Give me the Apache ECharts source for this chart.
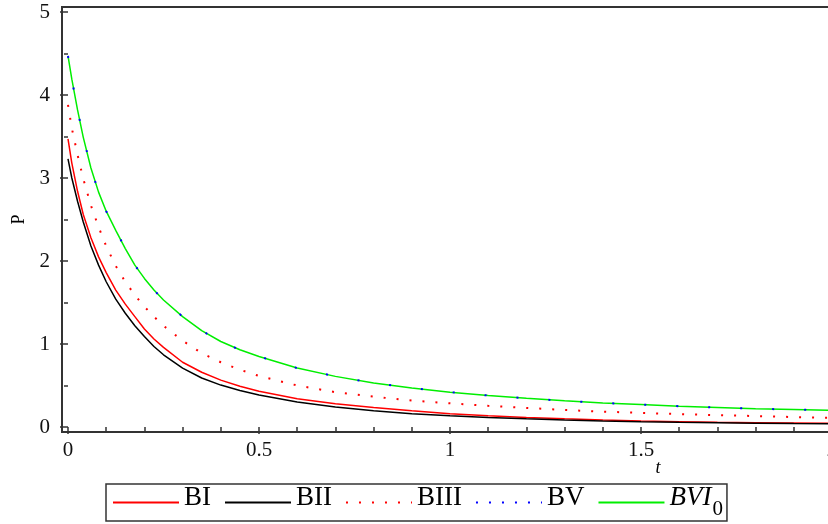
<!DOCTYPE html>
<html>
<head>
<meta charset="utf-8">
<script src="https://cdn.jsdelivr.net/npm/echarts@6/dist/echarts.min.js"></script>
<style>
  html, body { margin: 0; padding: 0; background: #fff; }
  #chart { width: 828px; height: 524px; }
</style>
</head>
<body>
<div id="chart"></div>
<script>
const tValues = [0, 0.01, 0.025, 0.04, 0.06, 0.08, 0.1, 0.125, 0.15, 0.175, 0.2, 0.225, 0.25,
  0.3, 0.35, 0.4, 0.45, 0.5, 0.6, 0.7, 0.8, 0.9, 1.0, 1.1, 1.2, 1.3, 1.4, 1.5, 1.6, 1.7, 1.8, 1.9, 2.0];

const biValues = [3.47, 3.18, 2.84, 2.56, 2.28, 2.05, 1.86, 1.65, 1.48, 1.33, 1.18, 1.06, 0.96,
  0.78, 0.66, 0.565, 0.49, 0.43, 0.34, 0.28, 0.235, 0.195, 0.16, 0.135, 0.115, 0.098, 0.084, 0.073, 0.064, 0.057, 0.052, 0.048, 0.045];

const biiValues = [3.23, 3.00, 2.72, 2.47, 2.18, 1.95, 1.75, 1.54, 1.37, 1.22, 1.09, 0.97, 0.87,
  0.71, 0.59, 0.505, 0.44, 0.385, 0.30, 0.24, 0.195, 0.16, 0.135, 0.115, 0.098, 0.084, 0.072, 0.063, 0.056, 0.05, 0.046, 0.042, 0.04];

const biiiValues = [3.88, 3.60, 3.28, 2.99, 2.67, 2.41, 2.18, 1.94, 1.75, 1.59, 1.45, 1.33, 1.22,
  1.04, 0.89, 0.78, 0.69, 0.615, 0.50, 0.42, 0.365, 0.32, 0.285, 0.255, 0.23, 0.205, 0.185, 0.17, 0.155, 0.143, 0.132, 0.12, 0.11];

const bvValues = [4.47, 4.19, 3.82, 3.49, 3.12, 2.83, 2.60, 2.37, 2.15, 1.95, 1.79, 1.65, 1.53,
  1.33, 1.16, 1.03, 0.93, 0.85, 0.71, 0.61, 0.53, 0.47, 0.42, 0.38, 0.345, 0.315, 0.29, 0.27, 0.25, 0.235, 0.22, 0.21, 0.20];

const bvi0Values = [4.47, 4.19, 3.82, 3.49, 3.12, 2.83, 2.60, 2.37, 2.15, 1.95, 1.79, 1.65, 1.53,
  1.33, 1.16, 1.03, 0.93, 0.85, 0.71, 0.61, 0.53, 0.47, 0.42, 0.38, 0.345, 0.315, 0.29, 0.27, 0.25, 0.235, 0.22, 0.21, 0.20];

const seriesNames = ['BI', 'BII', 'BIII', 'BV', 'BVI0'];

function pairs(vals) {
  return tValues.map((t, i) => [t, vals[i]]);
}

function makeLine(name, vals, color, type, width, z) {
  return {
    name: name,
    type: 'line',
    data: pairs(vals),
    symbol: 'none',
    showSymbol: false,
    smooth: false,
    z: z,
    lineStyle: { color: color, width: width, type: type },
    itemStyle: { color: color }
  };
}

const serif = 'Liberation Serif';
const axisCol = '#333';

let chart = echarts.init(document.getElementById('chart'));
chart.setOption({
  animation: false,
  backgroundColor: '#fff',
  grid: { left: 68, top: 12, right: -4, bottom: 97, containLabel: false, outerBoundsMode: 'none' },
  graphic: [{
    type: 'rect',
    shape: { x: 62, y: 7, width: 790, height: 425 },
    style: { fill: 'none', stroke: axisCol, lineWidth: 2 },
    silent: true,
    z: 0
  }],
  xAxis: {
    type: 'value',
    min: 0, max: 2, interval: 0.5,
    offset: 5,
    name: 't',
    nameLocation: 'middle',
    nameGap: 27,
    nameMoveOverlap: false,
    nameTextStyle: { fontFamily: serif, fontStyle: 'italic', fontSize: 18, color: '#000', padding: [0, 0, 0, 416] },
    axisLine: { show: false },
    axisTick: { show: true, inside: false, length: 7, lineStyle: { color: axisCol, width: 1.5 } },
    minorTick: { show: true, splitNumber: 5, length: 4, lineStyle: { color: axisCol, width: 1.5 } },
    splitLine: { show: false },
    axisLabel: {
      margin: 8, fontFamily: serif, fontSize: 21, color: '#111',
      formatter: v => String(v)
    }
  },
  yAxis: {
    type: 'value',
    min: 0, max: 5, interval: 1,
    offset: 6,
    name: 'P',
    nameLocation: 'middle',
    nameGap: 33,
    nameTextStyle: { fontFamily: serif, fontSize: 18, color: '#000' },
    axisLine: { show: false },
    axisTick: { show: true, inside: false, length: 8, lineStyle: { color: axisCol, width: 1.5 } },
    minorTick: { show: true, splitNumber: 2, length: 4, lineStyle: { color: axisCol, width: 1.5 } },
    splitLine: { show: false },
    axisLabel: { margin: 12, fontFamily: serif, fontSize: 21, color: '#111' }
  },
  legend: {
    left: 106, top: 484,
    orient: 'horizontal',
    selectedMode: false,
    borderColor: axisCol,
    borderWidth: 1.5,
    borderRadius: 0,
    padding: [0, 4, 0, 6],
    itemWidth: 66,
    itemHeight: 14,
    itemGap: 13,
    itemStyle: { opacity: 0 },
    data: [
      { name: 'BI' },
      { name: 'BII' },
      { name: 'BIII', lineStyle: { type: [2, 11], width: 2 } },
      { name: 'BV', lineStyle: { type: [2, 11], width: 2 } },
      { name: 'BVI0' }
    ],
    formatter: function (name) {
      if (name === 'BVI0') return '{i|BVI}{s|0}';
      return '{n|' + name + '}';
    },
    textStyle: {
      fontFamily: serif,
      fontSize: 27,
      color: '#000',
      rich: {
        n: { fontFamily: serif, fontSize: 27, color: '#000', lineHeight: 28, padding: [0, 0, 10, 0] },
        i: { fontFamily: serif, fontSize: 27, fontStyle: 'italic', color: '#000', lineHeight: 28, padding: [0, 0, 10, 0] },
        s: { fontFamily: serif, fontSize: 21, color: '#000', lineHeight: 24, padding: [14, 0, 0, 1] }
      }
    }
  },
  series: [
    makeLine(seriesNames[0], biValues, '#ff0000', 'solid', 1.5, 2),
    makeLine(seriesNames[1], biiValues, '#000000', 'solid', 1.5, 2),
    makeLine(seriesNames[2], biiiValues, '#ff0000', [2, 11], 2, 2),
    makeLine(seriesNames[4], bvi0Values, '#00ee00', 'solid', 1.5, 2),
    makeLine(seriesNames[3], bvValues, '#0000ff', [2, 30], 2, 3)
  ]
});
</script>
</body>
</html>
